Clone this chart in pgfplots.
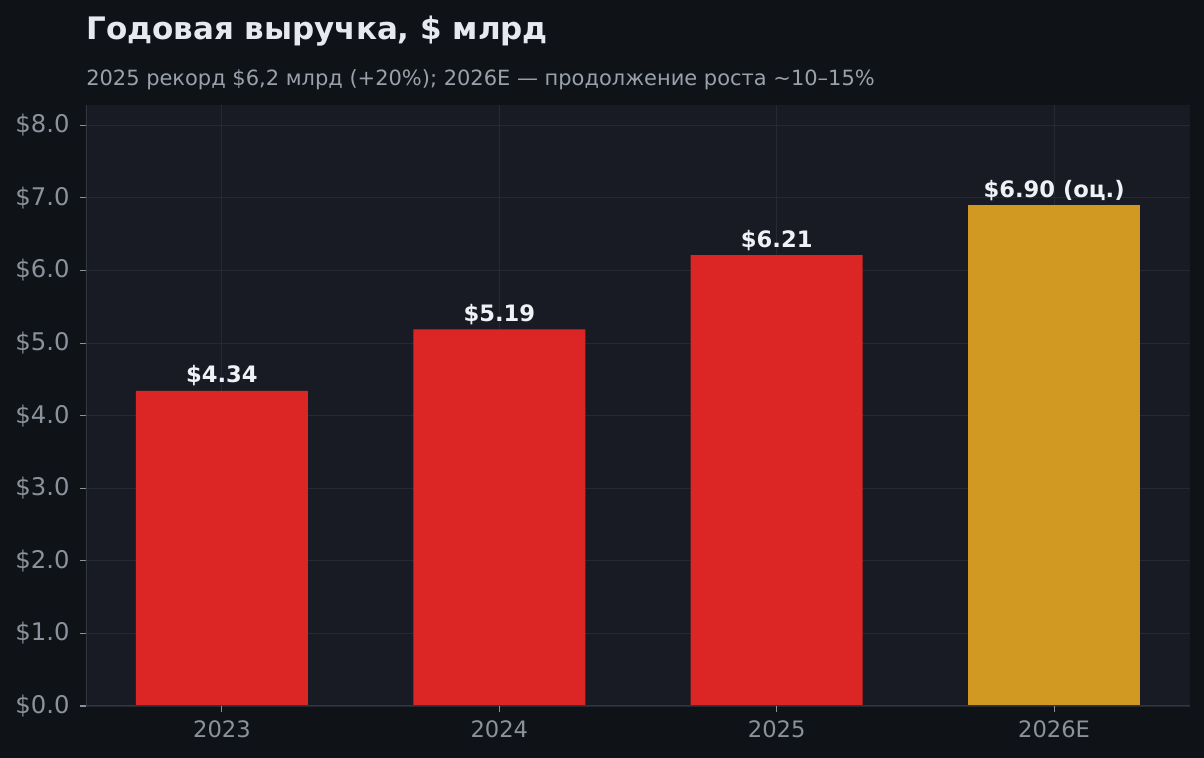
\documentclass[border=0pt]{standalone}
\usepackage{fontspec}
\setmainfont{DejaVu Sans}
\usepackage{pgfplots}
\pgfplotsset{compat=1.18}
\definecolor{figbg}{HTML}{0F1318}
\definecolor{axbg}{HTML}{181B23}
\definecolor{gridcol}{HTML}{252932}
\definecolor{spinecol}{HTML}{30353E}
\definecolor{tickcol}{HTML}{8B929B}
\definecolor{titlecol}{HTML}{E6EAF0}
\definecolor{subcol}{HTML}{9AA1AB}
\definecolor{barred}{HTML}{DC2626}
\definecolor{bargold}{HTML}{D29922}
\definecolor{valcol}{HTML}{EEF1F6}

\begin{document}
\begin{tikzpicture}
% 1 px of the reference = 0.72pt
\fill[figbg] (0,0) rectangle (866.88pt,545.76pt);
\useasboundingbox (0,0) rectangle (866.88pt,545.76pt);
\node[anchor=base west, inner sep=0pt, text=titlecol, font=\fontsize{22.3}{26}\selectfont\bfseries]
  at (61.92pt,517.0pt) {Годовая выручка, \$ млрд};
\node[anchor=base west, inner sep=0pt, text=subcol, font=\fontsize{15.1}{18}\selectfont]
  at (61.92pt,484.5pt) {2025 рекорд \$6,2 млрд (+20\%); 2026E — продолжение роста \textasciitilde10–15\%};
\begin{axis}[
  at={(61.92pt,37.44pt)}, anchor=south west,
  scale only axis,
  width=794.88pt, height=432.72pt,
  xmin=-0.49, xmax=3.49,
  ymin=0, ymax=8.28,
  axis background/.style={fill=axbg},
  axis line style={draw=none},
  xtick={0,1,2,3},
  xticklabels={2023,2024,2025,2026E},
  ytick={0,1,...,8},
  yticklabel={\$\pgfmathprintnumber[fixed,fixed zerofill,precision=1]{\tick}},
  /pgf/number format/assume math mode=true,
  xtick pos=bottom, ytick pos=left,
  tick align=outside,
  major tick length=4.3pt,
  tick style={color=tickcol, line width=0.8pt},
  xticklabel style={font=\fontsize{16.3}{19}\selectfont, text=tickcol, yshift=-2.5pt},
  yticklabel style={font=\fontsize{17.5}{20}\selectfont, text=tickcol, xshift=-4pt},
  grid=major,
  major grid style={gridcol, line width=0.7pt},
  ybar, bar width=123.84pt, bar shift=0pt,
  nodes near coords align={vertical},
  every node near coord/.append style={font=\fontsize{16.3}{19}\selectfont\bfseries, text=valcol, anchor=base, yshift=5.8pt},
]
\addplot[draw=none, fill=barred,
  nodes near coords={\$\pgfmathprintnumber[fixed,fixed zerofill,precision=2]{\pgfplotspointmeta}}]
  coordinates {(0,4.34) (1,5.19) (2,6.21)};
\addplot[draw=none, fill=bargold,
  nodes near coords={\$\pgfmathprintnumber[fixed,fixed zerofill,precision=2]{\pgfplotspointmeta} (оц.)}]
  coordinates {(3,6.90)};
\draw[spinecol, line width=1pt] (rel axis cs:0,1) -- (rel axis cs:0,0) -- (rel axis cs:1,0);
\end{axis}
\end{tikzpicture}
\end{document}
